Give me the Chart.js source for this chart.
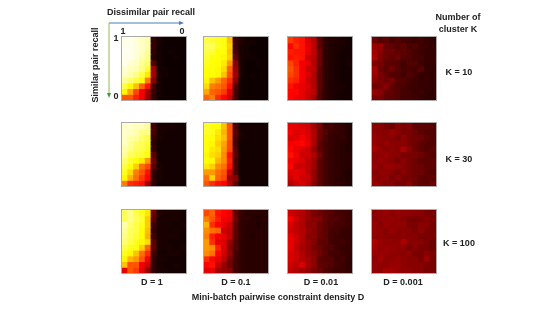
<!DOCTYPE html>
<html>
<head>
<meta charset="utf-8">
<title>Pair recall heatmaps</title>
<script src="https://cdn.jsdelivr.net/npm/chart.js@4"></script>
<style>
html, body { margin: 0; padding: 0; background: #fff; }
#page { position: relative; width: 548px; height: 309px; overflow: hidden; font: bold 9px "Liberation Sans", Arial, sans-serif; color: #222; }
#page canvas { position: absolute; filter: blur(0.45px); }
.frame { position: absolute; outline: 1px solid #aaa; }
.lbl { position: absolute; white-space: nowrap; transform: translate(-50%, -50%); line-height: 12px; text-align: center; }
svg { position: absolute; left: 0; top: 0; }
</style>
</head>
<body>
<div id="page">
<svg width="548" height="309">
  <line x1="109" y1="23" x2="180" y2="23" stroke="#4a7ebb" stroke-width="1"/>
  <polygon points="184,23 179,21 179,25" fill="#4a7ebb"/>
  <line x1="109" y1="23" x2="109" y2="94" stroke="#98b954" stroke-width="1"/>
  <polygon points="109,98 107,93 111,93" fill="#3f9a3f"/>
</svg>
</div>
<script>
// labels
var densityLabels = ["D = 1", "D = 0.1", "D = 0.01", "D = 0.001"];
var clusterLabels = ["K = 10", "K = 30", "K = 100"];
var clusterHeader = ["Number of", "cluster K"];
var xAxisTitle = "Mini-batch pairwise constraint density D";
var recallX = "Dissimilar pair recall";
var recallY = "Similar pair recall";

// cell values, percent of the colour scale. rows top to bottom
var k10d1 = [
  [98,98,96,94,92,7,4,2,2,2,2],
  [98,98,97,94,92,8,3,2,2,2,2],
  [99,98,96,94,90,7,3,2,3,2,2],
  [98,98,96,92,88,6,3,2,2,3,2],
  [98,96,94,90,86,12,3,2,2,2,2],
  [96,94,92,88,80,24,3,3,2,2,2],
  [94,92,88,82,72,24,4,3,2,2,2],
  [90,86,82,76,56,20,4,2,2,2,2],
  [82,74,66,52,40,10,3,2,2,2,2],
  [74,62,48,36,24,8,3,2,2,2,2],
  [50,50,42,36,22,8,3,2,2,2,2]
];
var k10d01 = [
  [82,80,78,76,66,9,5,3,3,2,2],
  [84,84,78,76,68,9,4,3,2,2,2],
  [82,80,76,75,66,10,4,3,2,2,2],
  [80,76,76,74,68,14,4,3,3,2,2],
  [78,76,75,72,60,20,4,2,2,3,2],
  [76,76,74,70,52,22,4,2,2,2,2],
  [75,75,74,66,50,24,4,2,3,2,2],
  [74,66,60,52,44,20,3,2,2,2,2],
  [70,56,54,50,40,12,3,2,2,2,2],
  [62,52,50,46,34,10,3,2,2,2,2],
  [52,56,44,38,30,10,3,2,2,2,2]
];
var k10d001 = [
  [46,42,40,32,28,14,7,5,5,4,3],
  [38,44,40,34,28,14,7,5,4,4,3],
  [42,40,40,34,28,16,7,5,4,3,3],
  [40,42,40,30,28,16,6,5,4,3,3],
  [48,42,36,34,26,16,7,5,4,3,4],
  [50,44,36,30,28,14,7,5,4,3,3],
  [48,44,36,32,26,14,7,5,4,3,3],
  [44,42,36,30,26,14,7,5,4,3,3],
  [40,36,34,32,26,14,7,5,4,4,3],
  [38,38,34,30,28,12,7,5,4,3,3],
  [38,36,34,30,24,12,7,5,4,3,3]
];
var k10d0001 = [
  [16,12,14,11,12,10,10,8,10,8,7],
  [22,22,15,14,12,14,10,12,9,9,7],
  [24,20,16,16,14,14,12,10,9,8,8],
  [26,18,16,14,16,12,12,10,10,8,8],
  [18,18,14,14,12,10,12,12,9,8,8],
  [24,16,14,16,13,10,11,10,13,8,7],
  [22,18,15,12,12,10,12,10,8,8,7],
  [20,18,16,18,12,12,10,9,8,8,7],
  [16,18,20,14,12,11,9,9,8,8,7],
  [22,20,15,14,12,10,10,8,9,7,7],
  [18,18,14,14,12,10,10,9,8,7,7]
];
var k30d1 = [
  [95,95,93,94,90,10,4,4,4,3,3],
  [95,94,92,88,88,11,4,3,3,3,3],
  [94,92,90,86,82,8,4,3,3,3,3],
  [94,90,86,84,80,7,3,3,3,3,3],
  [92,88,84,82,78,8,3,3,3,3,3],
  [90,84,82,80,76,14,3,3,3,3,3],
  [86,80,76,72,60,16,3,3,3,3,3],
  [82,76,68,54,48,14,4,3,3,3,3],
  [78,70,56,50,40,8,4,3,3,3,3],
  [74,64,54,46,38,7,4,3,3,3,3],
  [56,44,42,40,24,7,3,3,3,3,3]
];
var k30d01 = [
  [80,76,76,66,50,11,3,3,3,3,3],
  [78,78,72,64,50,13,4,3,3,3,3],
  [76,76,70,66,50,11,4,3,3,3,3],
  [76,74,68,62,48,9,3,3,3,3,3],
  [76,72,70,60,48,13,3,3,3,3,3],
  [74,70,68,58,40,13,3,3,3,3,3],
  [76,74,64,58,42,11,3,3,3,3,3],
  [72,68,58,54,40,11,3,3,3,3,3],
  [60,60,54,50,30,11,3,3,3,3,3],
  [54,68,52,48,24,20,3,3,3,3,3],
  [50,44,40,38,26,14,3,3,3,3,3]
];
var k30d001 = [
  [34,34,32,30,24,18,10,10,8,7,5],
  [36,32,34,32,26,16,12,9,8,7,5],
  [32,34,36,32,26,16,11,8,7,8,5],
  [36,37,38,34,26,14,10,8,7,6,5],
  [38,34,32,30,22,14,10,8,7,6,5],
  [40,36,30,30,26,18,10,8,7,6,6],
  [36,34,32,28,24,14,10,8,7,6,6],
  [38,30,30,28,24,14,10,8,7,6,6],
  [32,34,32,28,22,14,10,8,7,6,5],
  [30,34,30,30,22,14,10,8,7,6,5],
  [26,30,32,28,20,14,10,8,7,6,5]
];
var k30d0001 = [
  [20,20,18,16,20,18,19,14,14,14,12],
  [21,20,20,22,20,18,18,16,14,12,12],
  [22,21,20,20,18,21,18,16,16,14,12],
  [22,20,22,20,20,20,18,16,14,12,12],
  [24,21,20,21,20,25,20,16,14,12,14],
  [21,21,22,20,20,18,18,18,16,14,12],
  [21,22,21,20,18,20,18,16,14,14,14],
  [22,20,22,22,21,20,18,16,16,14,14],
  [20,21,21,20,18,20,18,16,16,14,12],
  [21,20,21,18,20,18,18,16,14,14,14],
  [22,21,20,20,18,18,20,16,14,14,16]
];
var k100d1 = [
  [84,88,82,78,72,16,5,4,4,4,3],
  [84,88,84,80,68,14,4,4,4,4,3],
  [92,86,82,78,68,10,4,4,4,3,4],
  [90,84,82,76,66,8,4,4,3,4,3],
  [88,84,80,76,64,10,4,4,4,4,3],
  [86,82,78,74,70,14,4,4,3,3,3],
  [82,78,76,68,52,14,4,4,4,3,4],
  [78,74,66,54,44,10,4,3,4,4,3],
  [74,64,60,50,36,7,4,4,3,3,3],
  [66,50,50,36,30,7,4,3,3,4,3],
  [34,50,46,34,22,7,4,4,3,3,3]
];
var k100d01 = [
  [48,52,40,38,36,14,8,6,6,6,6],
  [56,50,42,36,34,16,7,7,6,5,6],
  [64,44,38,34,30,14,7,6,6,5,6],
  [58,54,52,30,28,14,7,6,6,6,6],
  [56,42,36,34,28,14,7,6,5,6,6],
  [60,44,34,32,22,12,7,6,6,6,6],
  [60,58,42,32,20,12,7,6,6,6,6],
  [58,54,38,30,22,10,7,6,6,6,6],
  [44,38,34,28,18,10,7,6,6,6,6],
  [38,40,30,22,16,10,7,6,6,6,6],
  [34,34,24,22,20,10,7,6,6,6,6]
];
var k100d001 = [
  [30,28,26,22,18,16,14,12,10,10,9],
  [36,30,26,22,20,19,14,12,12,10,9],
  [32,28,26,20,21,16,14,12,10,10,9],
  [30,28,26,22,20,16,14,10,10,8,8],
  [34,30,26,20,20,16,14,10,9,8,8],
  [34,30,26,22,20,14,14,10,9,10,8],
  [34,28,24,22,18,16,12,12,9,8,8],
  [32,30,26,22,20,16,14,10,10,9,8],
  [32,30,26,24,21,14,12,12,9,10,7],
  [30,28,32,24,21,14,14,12,10,9,7],
  [28,26,24,22,18,16,12,10,9,9,7]
];
var k100d0001 = [
  [20,21,22,20,22,21,21,20,20,18,18],
  [21,21,21,22,21,20,18,18,18,20,18],
  [22,20,22,21,21,21,18,18,20,20,18],
  [22,21,20,22,20,20,20,18,21,18,18],
  [21,21,20,20,20,21,20,20,18,18,18],
  [25,22,21,21,21,25,20,20,20,18,16],
  [24,21,22,22,21,21,18,20,18,18,16],
  [22,22,22,21,21,20,21,18,18,20,18],
  [21,24,21,21,22,21,20,20,18,23,18],
  [22,21,21,22,22,21,20,20,20,18,18],
  [22,21,24,24,22,21,21,20,20,18,18]
];

var panels = [
  [k10d1, k10d01, k10d001, k10d0001],
  [k30d1, k30d01, k30d001, k30d0001],
  [k100d1, k100d01, k100d001, k100d0001]
];

// layout in page pixels
var colLeft = [122, 204, 288, 372];
var rowTop = [37, 123, 210];
var panelW = 64, panelH = 63;

var page = document.getElementById("page");

/* matlab style hot colormap, v is 0-100 */
function hot(v) {
  var t = v / 100;
  var r = Math.min(1, t / 0.375);
  var g = Math.max(0, Math.min(1, (t - 0.375) / 0.375));
  var b = Math.max(0, Math.min(1, (t - 0.75) / 0.25));
  return "rgb(" + Math.round(r * 255) + "," + Math.round(g * 255) + "," + Math.round(b * 255) + ")";
}

function addLabel(text, x, y, rotate) {
  var d = document.createElement("div");
  d.className = "lbl";
  d.textContent = text;
  d.style.left = x + "px";
  d.style.top = y + "px";
  if (rotate) d.style.transform = "translate(-50%, -50%) rotate(-90deg)";
  page.appendChild(d);
}

function drawPanel(matrix, left, top) {
  var cv = document.createElement("canvas");
  cv.width = panelW;
  cv.height = panelH;
  cv.style.left = left + "px";
  cv.style.top = top + "px";
  page.appendChild(cv);

  // grey frame sits on top so the blur does not eat it
  var fr = document.createElement("div");
  fr.className = "frame";
  fr.style.left = left + "px";
  fr.style.top = top + "px";
  fr.style.width = panelW + "px";
  fr.style.height = panelH + "px";
  page.appendChild(fr);

  var cols = matrix[0].map(function(v, i) { return i; });
  // one stacked dataset per heatmap row, every cell is one unit tall
  var sets = matrix.map(function(row) {
    return {
      data: row.map(function() { return 1; }),
      backgroundColor: row.map(hot),
      borderWidth: 0,
      inflateAmount: 0.5,
      barPercentage: 1,
      categoryPercentage: 1
    };
  });

  new Chart(cv, {
    type: "bar",
    data: { labels: cols, datasets: sets },
    options: {
      responsive: false,
      animation: false,
      layout: { padding: 0 },
      plugins: { legend: { display: false }, tooltip: { enabled: false } },
      scales: {
        x: { stacked: true, display: false },
        y: { stacked: true, display: false, reverse: true, min: 0, max: matrix.length }
      }
    }
  });
}

for (var r = 0; r < panels.length; r++) {
  for (var c = 0; c < panels[r].length; c++) {
    drawPanel(panels[r][c], colLeft[c], rowTop[r]);
  }
}

// all the text round the grid
var densityX = [152, 236, 321, 403];
for (var i = 0; i < densityLabels.length; i++) addLabel(densityLabels[i], densityX[i], 282);
var clusterY = [72, 159, 243];
for (var j = 0; j < clusterLabels.length; j++) addLabel(clusterLabels[j], 459, clusterY[j]);
addLabel(clusterHeader[0], 458, 17);
addLabel(clusterHeader[1], 458, 29);
addLabel(xAxisTitle, 278, 297);
addLabel(recallX, 151, 12);
addLabel(recallY, 95, 65, true);
addLabel("1", 123, 31);
addLabel("0", 182, 31);
addLabel("1", 116, 38);
addLabel("0", 116, 96);
</script>
</body>
</html>
